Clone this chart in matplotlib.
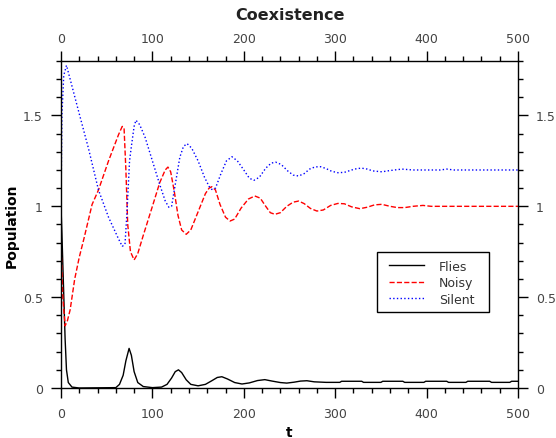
#!/usr/bin/env python3.12
"""Coexistence of flies, noisy and silent populations over time."""

import matplotlib
matplotlib.use("Agg")
import matplotlib.pyplot as plt
from matplotlib.patches import Rectangle
from matplotlib.ticker import MultipleLocator, FormatStrFormatter


# Values.
t_flies = [0, 1, 2.5, 4.5, 6, 8, 12, 20, 60, 64, 68, 71, 74.5, 77, 80, 84, 90,
           100, 110, 116, 121, 125, 128.5, 132, 137, 142, 150, 158, 165, 171,
           176, 182, 190, 198, 206, 215, 223, 231, 240, 247, 255, 262, 269,
           277, 290, 305, 307, 329, 331, 350, 352, 374, 376, 397, 399, 422,
           424, 443, 445, 469, 471, 491, 493, 500]
flies = [1.0, 0.85, 0.6, 0.27, 0.1, 0.03, 0.005, 0.0, 0.002, 0.02, 0.07, 0.15,
         0.218, 0.18, 0.09, 0.03, 0.008, 0.002, 0.005, 0.02, 0.055, 0.09, 0.10,
         0.085, 0.045, 0.02, 0.012, 0.02, 0.04, 0.058, 0.062, 0.05, 0.03,
         0.022, 0.028, 0.041, 0.046, 0.038, 0.03, 0.027, 0.032, 0.038, 0.04,
         0.034, 0.031, 0.031, 0.037, 0.037, 0.031, 0.031, 0.037, 0.037, 0.031,
         0.031, 0.037, 0.037, 0.031, 0.031, 0.037, 0.037, 0.031, 0.031, 0.037,
         0.037]

t_noisy = [0, 2, 4.5, 7, 10, 15, 20, 25, 34, 41, 52, 63, 67, 69, 71, 73, 76,
           80, 84, 90, 100, 108, 114, 117, 120, 124, 128, 132, 137, 142, 150,
           158, 162, 165, 169, 174, 180, 185, 190, 197, 205, 212, 218, 224,
           229, 234, 240, 247, 254, 260, 266, 273, 280, 287, 295, 303, 310,
           318, 327, 335, 343, 351, 360, 368, 376, 385, 396, 405, 500]
noisy = [0.8, 0.5, 0.342, 0.37, 0.43, 0.6, 0.72, 0.82, 1.01, 1.09, 1.25,
         1.395, 1.44, 1.43, 1.2, 0.9, 0.75, 0.705, 0.74, 0.84, 1.0, 1.13, 1.2,
         1.216, 1.19, 1.08, 0.95, 0.87, 0.846, 0.87, 0.97, 1.07, 1.1, 1.108,
         1.09, 1.01, 0.94, 0.919, 0.93, 0.99, 1.04, 1.057, 1.045, 1.0, 0.965,
         0.956, 0.965, 1.0, 1.023, 1.029, 1.015, 0.988, 0.974, 0.98, 1.005,
         1.016, 1.014, 0.997, 0.987, 0.995, 1.008, 1.011, 1.0, 0.993, 0.993,
         1.0, 1.005, 1.0, 1.0]

t_silent = [0, 1, 3, 6, 10, 21, 30, 41, 52, 63, 67, 70, 72, 75, 77, 80, 82,
            86, 92, 100, 108, 114, 118, 121, 125, 130, 134, 138, 143, 150,
            157, 162, 165, 169, 175, 181, 187, 193, 200, 206, 211, 217, 224,
            230, 235, 241, 248, 254, 260, 266, 272, 278, 284, 290, 296, 303,
            310, 318, 324, 329, 335, 341, 351, 360, 373, 385, 415, 422, 430,
            500]
silent = [1.0, 1.5, 1.72, 1.776, 1.7, 1.49, 1.32, 1.09, 0.94, 0.82, 0.78,
          0.79, 0.95, 1.25, 1.33, 1.44, 1.474, 1.45, 1.38, 1.25, 1.12, 1.03,
          0.995, 1.0, 1.12, 1.27, 1.33, 1.345, 1.32, 1.25, 1.16, 1.11, 1.093,
          1.10, 1.18, 1.25, 1.273, 1.25, 1.2, 1.155, 1.143, 1.16, 1.21, 1.238,
          1.243, 1.23, 1.195, 1.172, 1.167, 1.18, 1.205, 1.217, 1.218, 1.208,
          1.193, 1.185, 1.187, 1.2, 1.208, 1.21, 1.205, 1.195, 1.19, 1.197,
          1.205, 1.2, 1.2, 1.205, 1.2, 1.2]


def main() -> None:
    fig = plt.figure(figsize=(5.56, 4.39), dpi=100)
    ax = fig.add_axes([0.1097, 0.1139, 0.822, 0.7449])

    ax.plot(t_flies, flies, color="black", lw=1.0, ls="-", label="Flies")
    ax.plot(t_noisy, noisy, color="red", lw=1.0, ls="--", label="Noisy")
    ax.plot(t_silent, silent, color="blue", lw=1.0, ls=":", label="Silent")

    ax.set_xlim(0, 500)
    ax.set_ylim(0, 1.8)

    ax.xaxis.set_major_locator(MultipleLocator(100))
    ax.xaxis.set_minor_locator(MultipleLocator(20))
    ax.yaxis.set_major_locator(MultipleLocator(0.5))
    ax.yaxis.set_minor_locator(MultipleLocator(0.1))
    ax.yaxis.set_major_formatter(FormatStrFormatter("%g"))

    ax.tick_params(which="both", direction="out", top=True, right=True,
                   labeltop=True, labelright=True, colors="black",
                   labelcolor="#444444", labelsize=9, width=1.0)
    ax.tick_params(which="major", length=7, pad=6)
    ax.tick_params(which="minor", length=3.5)
    ax.tick_params(axis="x", which="major", pad=7)
    for tick in ax.xaxis.get_major_ticks():
        tick.label2.set_verticalalignment("baseline")
    for spine in ax.spines.values():
        spine.set_linewidth(1.0)

    fig.text(289.5 / 556, 1 - 15 / 439, "Coexistence", fontsize=11.5,
             fontweight="bold", ha="center", va="center", color="#222222")
    ax.set_xlabel("t", fontsize=10, fontweight="bold", labelpad=3.5)
    ax.set_ylabel("Population", fontsize=10, fontweight="bold", labelpad=3)

    # legend frame drawn by hand so its padding matches the reference
    ax.add_patch(Rectangle((0.692, 0.2315), 0.2444, 0.1835,
                           transform=ax.transAxes, facecolor="white",
                           edgecolor="black", lw=1.0, zorder=4.5))
    leg = ax.legend(loc="upper left", bbox_to_anchor=(0.7177, 0.392),
                    borderaxespad=0, borderpad=0, frameon=False, fontsize=9,
                    handlelength=2.8, labelspacing=0.27, handletextpad=1.2)
    leg.set_zorder(5)
    for txt in leg.get_texts():
        txt.set_color("#333333")

    fig.savefig("out.png", dpi=100)


if __name__ == "__main__":
    main()
